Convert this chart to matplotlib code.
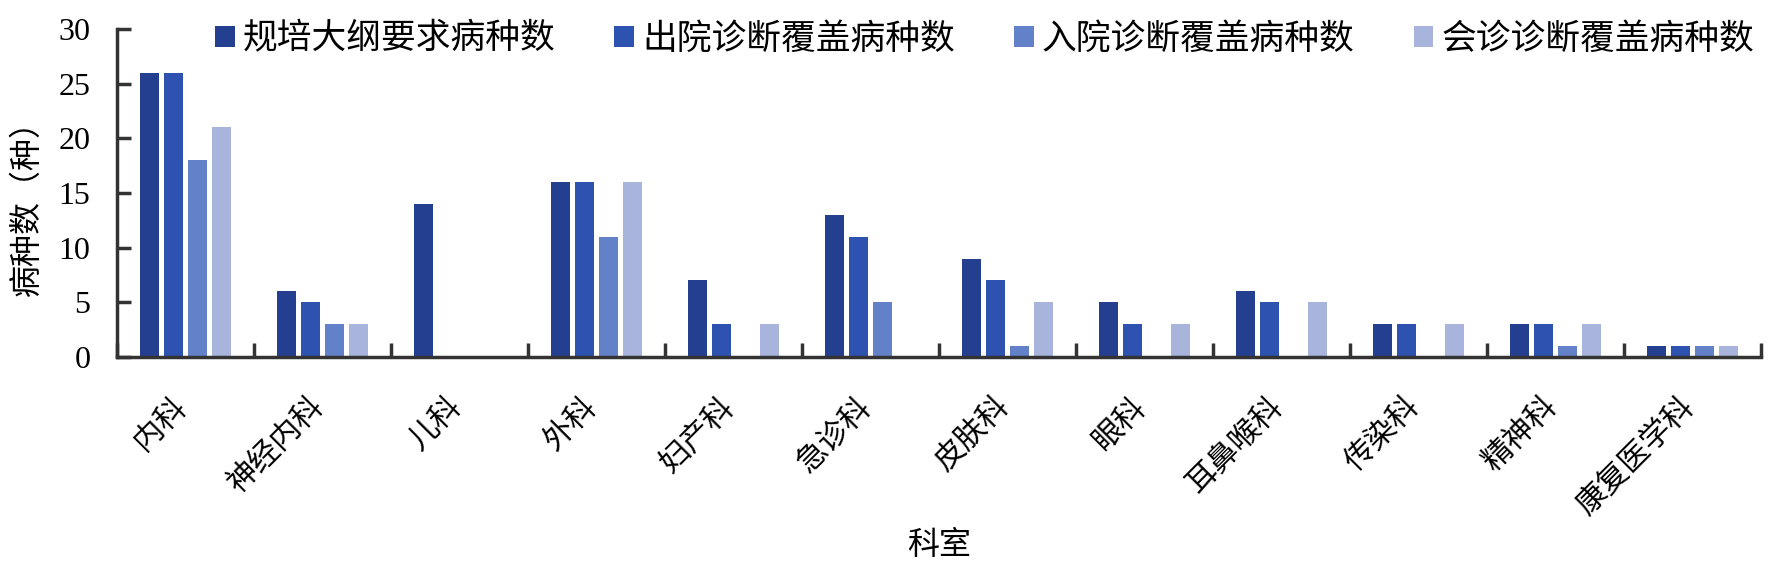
import matplotlib
matplotlib.use('Agg')
import matplotlib.pyplot as plt
import numpy as np

plt.rcParams['font.family'] = ['Liberation Serif', 'Noto Sans CJK SC', 'DejaVu Sans']

departments = ['内科', '神经内科', '儿科', '外科', '妇产科', '急诊科', '皮肤科',
               '眼科', '耳鼻喉科', '传染科', '精神科', '康复医学科']
series_names = ['规培大纲要求病种数', '出院诊断覆盖病种数', '入院诊断覆盖病种数', '会诊诊断覆盖病种数']
syllabus = [26, 6, 14, 16, 7, 13, 9, 5, 6, 3, 3, 1]
discharge = [26, 5, 0, 16, 3, 11, 7, 3, 5, 3, 3, 1]
admission = [18, 3, 0, 11, 0, 5, 1, 0, 0, 0, 1, 1]
consult = [21, 3, 0, 16, 3, 0, 5, 3, 5, 3, 3, 1]
colors = ['#243f8f', '#2d52b0', '#6381c8', '#a8b4dc']

fig = plt.figure(figsize=(17.8, 5.62), dpi=100)
ax = fig.add_axes([117/1780, 1-357/562, (1761-117)/1780, (357-29)/562])

x = np.arange(len(departments))
width = 0.14
offsets = [-0.2625, -0.0875, 0.0875, 0.2625]
for vals, off, col, name in zip([syllabus, discharge, admission, consult], offsets, colors, series_names):
    ax.bar(x + off, vals, width, color=col, label=name, edgecolor='none')

ax.set_xlim(-0.5, len(departments) - 0.5)
ax.set_ylim(0, 30)
ax.set_yticks(range(0, 31, 5))
ax.set_xticks(np.arange(-0.5, len(departments), 1.0))
ax.set_xticklabels([])
ax.set_xticks(x - 0.02, minor=True)
ax.set_xticklabels(departments, minor=True, rotation=45, ha='right', va='center',
                   rotation_mode='anchor', fontsize=22)
ax.tick_params(axis='x', which='minor', length=0, pad=33)
ax.tick_params(axis='both', which='major', direction='in', length=10, width=2.5, color='#333333')
ax.tick_params(axis='y', labelsize=23, pad=19)

for s in ['top', 'right']:
    ax.spines[s].set_visible(False)
for s in ['left', 'bottom']:
    ax.spines[s].set_linewidth(2.5)
    ax.spines[s].set_color('#333333')

ax.set_ylabel('病种数（种）', fontsize=23)
ax.yaxis.set_label_coords(-0.045, 0.48)
ax.set_xlabel('科室', fontsize=23)
ax.xaxis.set_label_coords(0.5, -0.53)

fig.legend(loc='center', bbox_to_anchor=(984.5/1780, 1-40/562), ncol=4, frameon=False,
           fontsize=25, handlelength=0.57, handleheight=0.57, handletextpad=0.23,
           columnspacing=1.7, borderpad=0, borderaxespad=0)

fig.savefig('out.png', dpi=100)
